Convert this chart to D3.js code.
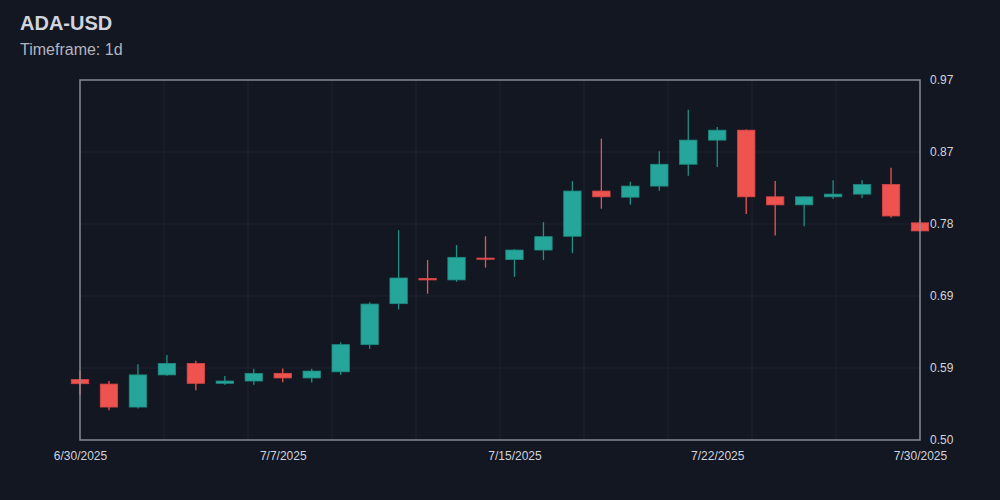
<!DOCTYPE html>
<html>
<head>
<meta charset="utf-8">
<script src="https://cdn.jsdelivr.net/npm/d3@7/dist/d3.min.js"></script>
<style>
  html, body { margin: 0; padding: 0; background: #131722; }
  svg { display: block; }
</style>
</head>
<body>
<svg id="chart" width="1000" height="500"></svg>
<script>
const title = "ADA-USD";
const subtitle = "Timeframe: 1d";

const dates = [
  "6/30/2025","7/1/2025","7/2/2025","7/3/2025","7/4/2025","7/5/2025","7/6/2025",
  "7/7/2025","7/8/2025","7/9/2025","7/10/2025","7/11/2025","7/12/2025","7/13/2025",
  "7/14/2025","7/15/2025","7/16/2025","7/17/2025","7/18/2025","7/19/2025","7/20/2025",
  "7/21/2025","7/22/2025","7/23/2025","7/24/2025","7/25/2025","7/26/2025","7/27/2025",
  "7/28/2025","7/30/2025"
];
const opens  = [0.579,0.573,0.543,0.585,0.600,0.574,0.577,0.587,0.581,0.589,
                0.6245,0.678,0.711,0.709,0.7375,0.7355,0.748,0.766,0.825,0.817,
                0.8315,0.860,0.8915,0.9045,0.8175,0.807,0.8175,0.821,0.8335,0.7835];
const highs  = [0.5905,0.577,0.599,0.611,0.6035,0.5835,0.593,0.5935,0.593,0.6275,
                0.680,0.774,0.735,0.7545,0.766,0.749,0.7845,0.838,0.8935,0.837,
                0.877,0.931,0.9085,0.9055,0.838,0.818,0.839,0.839,0.8555,0.789];
const lows   = [0.559,0.539,0.541,0.584,0.565,0.572,0.572,0.5755,0.575,0.585,
                0.619,0.6705,0.691,0.7065,0.725,0.713,0.735,0.744,0.802,0.807,
                0.8255,0.845,0.8565,0.795,0.767,0.779,0.8145,0.816,0.790,0.7725];
const closes = [0.5735,0.543,0.585,0.600,0.574,0.577,0.587,0.581,0.590,0.6245,
                0.6775,0.7115,0.709,0.7385,0.736,0.748,0.7655,0.825,0.8175,0.8315,
                0.860,0.8915,0.9045,0.8175,0.807,0.8175,0.821,0.8335,0.7925,0.773];

const xTickIdx = [0, 7, 15, 22, 29];
const xGridIdx = [0, 2.9, 5.8, 8.7, 11.6, 14.5, 17.4, 20.3, 23.2, 26.1, 29];
const yTicks = [0.50, 0.594, 0.688, 0.782, 0.876, 0.97];
const yTickLabels = ["0.50", "0.59", "0.69", "0.78", "0.87", "0.97"];

const W = 1000, H = 500;
const M = { left: 80, right: 80, top: 80, bottom: 60 };
const upColor = "#26a69a", downColor = "#ef5350";

const svg = d3.select("#chart");
svg.append("rect").attr("width", W).attr("height", H).attr("fill", "#131722");

const x = d3.scaleLinear().domain([0, dates.length - 1]).range([M.left, W - M.right]);
const y = d3.scaleLinear().domain([0.50, 0.97]).range([H - M.bottom, M.top]);

// grid
const grid = svg.append("g");
grid.selectAll("line.v").data(xGridIdx).join("line")
  .attr("x1", d => x(d)).attr("x2", d => x(d))
  .attr("y1", M.top).attr("y2", H - M.bottom)
  .attr("stroke", "#1f2330").attr("stroke-width", 1);
grid.selectAll("line.h").data(yTicks).join("line")
  .attr("x1", M.left).attr("x2", W - M.right)
  .attr("y1", d => y(d)).attr("y2", d => y(d))
  .attr("stroke", "#1f2330").attr("stroke-width", 1);

// candles
const data = dates.map((d, i) => ({ i, d, o: opens[i], h: highs[i], l: lows[i], c: closes[i] }));
const step = x(1) - x(0);
const bw = step * 0.6;
const cg = svg.append("g");
const candle = cg.selectAll("g").data(data).join("g");
candle.append("line")
  .attr("x1", d => x(d.i)).attr("x2", d => x(d.i))
  .attr("y1", d => y(d.h)).attr("y2", d => y(d.l))
  .attr("stroke", d => d.c >= d.o ? "#1f9187" : downColor)
  .attr("stroke-width", 1.3);
candle.append("rect")
  .attr("x", d => x(d.i) - bw / 2)
  .attr("width", bw)
  .attr("y", d => y(Math.max(d.o, d.c)))
  .attr("height", d => Math.max(1.2, Math.abs(y(d.o) - y(d.c))))
  .attr("fill", d => d.c >= d.o ? upColor : downColor)
  .attr("stroke", d => d.c >= d.o ? "#1e8a80" : "#d84745")
  .attr("stroke-width", 0.8);

// frame
svg.append("rect")
  .attr("x", M.left).attr("y", M.top)
  .attr("width", W - M.left - M.right).attr("height", H - M.top - M.bottom)
  .attr("fill", "none").attr("stroke", "#8a8d96").attr("stroke-width", 1.6)
  .attr("stroke-opacity", 0.9);

// y axis (right)
const yAxis = d3.axisRight(y).tickValues(yTicks)
  .tickFormat((d, i) => yTickLabels[i]).tickSize(0).tickPadding(10);
const yg = svg.append("g").attr("transform", `translate(${W - M.right},0)`).call(yAxis);
yg.select(".domain").remove();
yg.selectAll("text").attr("fill", "#d1d4dc")
  .style("font-family", "'Liberation Sans', Arial, sans-serif").style("font-size", "12px");

// x axis
const xAxis = d3.axisBottom(x).tickValues(xTickIdx)
  .tickFormat(d => dates[d]).tickSize(0).tickPadding(11);
const xg = svg.append("g").attr("transform", `translate(0,${H - M.bottom})`).call(xAxis);
xg.select(".domain").remove();
xg.selectAll("text").attr("fill", "#d1d4dc")
  .style("font-family", "'Liberation Sans', Arial, sans-serif").style("font-size", "12px");

// titles
svg.append("text").attr("x", 20).attr("y", 30).text(title)
  .attr("fill", "#d1d4dc").style("font-family", "'Liberation Sans', Arial, sans-serif")
  .style("font-size", "20px").style("font-weight", "bold");
svg.append("text").attr("x", 20).attr("y", 55).text(subtitle)
  .attr("fill", "#b2b5be").style("font-family", "'Liberation Sans', Arial, sans-serif")
  .style("font-size", "16px");
</script>
</body>
</html>
